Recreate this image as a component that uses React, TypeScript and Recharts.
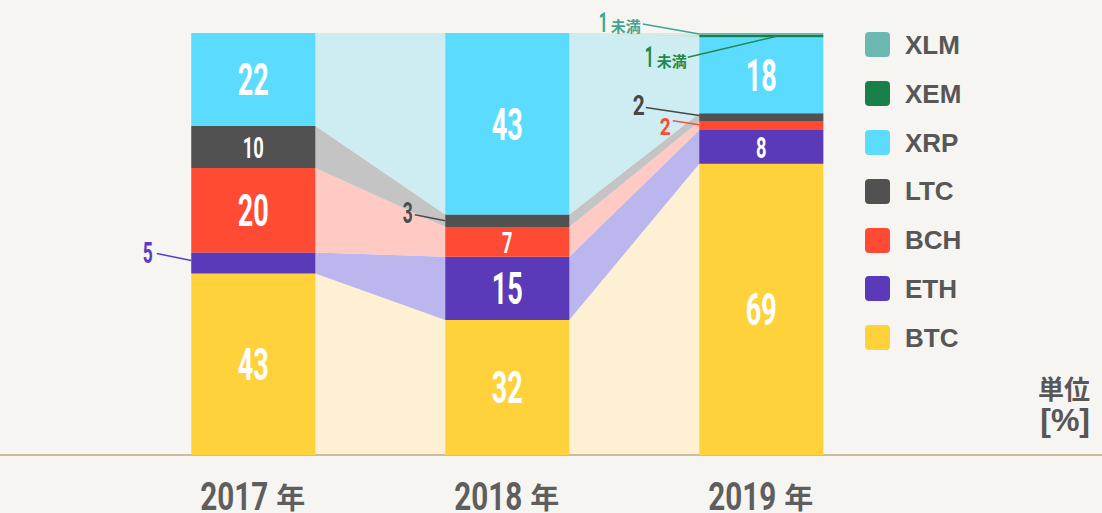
import React from 'react';
import { AreaChart, ComposedChart, Area, Bar, XAxis, YAxis, LabelList, Legend } from 'recharts';

// ---- data ----
const years = ['2017', '2018', '2019'];
const yearSuffix = '年';
const seriesKeys = ['BTC', 'ETH', 'BCH', 'LTC', 'XRP', 'XEM', 'XLM'];
const btc = [43, 32, 69];
const eth = [5, 15, 8];
const bch = [20, 7, 2];
const ltc = [10, 3, 2];
const xrp = [22, 43, 18];
const xem = [0, 0, 0.5];
const xlm = [0, 0, 0.5];
const lessThanText = '未満';
const unitLines = ['単位', '[%]'];

const seriesValues: Record<string, number[]> = {
  BTC: btc, ETH: eth, BCH: bch, LTC: ltc, XRP: xrp, XEM: xem, XLM: xlm,
};

// ---- styles ----
const W = 1102;
const H = 513;
const BG = '#f6f5f1';
const BAR_SIZE = 124;
const SPACING_PX = 254;
const HALF = BAR_SIZE / 2 / SPACING_PX; // half bar width in x units
const FIRST_CENTER_PX = 253.3;
const X_DOMAIN: [number, number] = [-FIRST_CENTER_PX / SPACING_PX, (W - FIRST_CENTER_PX) / SPACING_PX];
const MARGIN_TOP = 33;
const AXIS_H = 58;

const barColors: Record<string, string> = {
  BTC: '#ffd23c', ETH: '#5a3ab8', BCH: '#ff4b33', LTC: '#515151', XRP: '#5bdcff', XEM: '#1a804a', XLM: '#6bb8b1',
};
const bandColors: Record<string, string> = {
  BTC: '#fef0d3', ETH: '#bbb6ee', BCH: '#ffc9c4', LTC: '#c4c4c4', XRP: '#cdedf3', XEM: '#c9e6d6', XLM: '#d3ece8',
};

const DIGIT_FONT = 'Roboto, "Liberation Sans", sans-serif';
const CJK_FONT = '"Noto Sans CJK JP", "Noto Sans", sans-serif';
const LATIN_FONT = '"Liberation Sans", Arial, sans-serif';

// ---- tables built from the arrays ----
const barData = years.map((y, i) => {
  const row: any = { x: i, year: y };
  seriesKeys.forEach((k) => (row[k] = seriesValues[k][i]));
  return row;
});
const bandData = years.flatMap((y, i) =>
  [i - HALF, i + HALF].map((xv) => {
    const row: any = { x: xv };
    seriesKeys.forEach((k) => (row[k] = seriesValues[k][i]));
    return row;
  })
);

// callout styling (relative to bar left edge bx and segment centre cy)
type Callout = {
  color: string; tx: number; ty: number; size: number; len: number;
  l: [number, number, number, number]; suffix?: boolean;
};
const callouts: Record<string, Callout> = {
  'ETH-0': { color: '#5b3cc4', tx: -48.5, ty: 0.5, size: 30, len: 10, l: [-34.5, -9.5, 0, -2.5] },
  'LTC-1': { color: '#4d4d4d', tx: -42.5, ty: 2, size: 30, len: 10, l: [-30.5, -6, 0, 0] },
  'LTC-2': { color: '#474747', tx: -66.5, ty: -2, size: 27, len: 12, l: [-53.5, -10, 0, -2] },
  'BCH-2': { color: '#ff4a36', tx: -39.5, ty: 9, size: 23, len: 11, l: [-26.5, -5, 0, -1] },
  'XLM-2': { color: '#3fa594', tx: -100.5, ty: -2, size: 28, len: 9, l: [-56.5, -10, 0, 0], suffix: true },
  'XEM-2': { color: '#1f8a4c', tx: -54.5, ty: 31, size: 29, len: 9, l: [-11.5, 21, 77.5, 0], suffix: true },
};

const fmt = (v: number) => (v < 1 ? '1' : String(v));

const makeLabel = (key: string) => (props: any) => {
  const vb = props.viewBox && props.viewBox.width != null ? props.viewBox : props;
  const x = Number(vb.x), y = Number(vb.y), width = Number(vb.width), height = Number(vb.height);
  const vals = seriesValues[key];
  let index = props.index;
  const pv = Number(Array.isArray(props.value) ? NaN : props.value);
  if (index == null || (!isNaN(pv) && vals[index] !== pv)) {
    const found = vals.findIndex((vv) => vv === pv && vv !== 0);
    if (found >= 0) index = found;
  }
  const v = vals[index];
  if (!v) return null;
  const cx = x + width / 2;
  const cy = y + height / 2;
  const txt = fmt(v);
  if (v >= 15) {
    return (
      <text x={cx} y={cy + 16} textAnchor="middle" fill="#fff" fontFamily={DIGIT_FONT} fontWeight={700}
        fontSize={45} textLength={txt.length * 15.5} lengthAdjust="spacingAndGlyphs">{txt}</text>
    );
  }
  if (v >= 6) {
    return (
      <text x={cx} y={cy + 11} textAnchor="middle" fill="#fff" fontFamily={DIGIT_FONT} fontWeight={700}
        fontSize={30} textLength={txt.length * 10.5} lengthAdjust="spacingAndGlyphs">{txt}</text>
    );
  }
  const c = callouts[`${key}-${index}`];
  if (!c) return null;
  const bx = x;
  return (
    <g>
      <line x1={bx + c.l[0]} y1={cy + c.l[1]} x2={bx + c.l[2]} y2={cy + c.l[3]} stroke={c.color} strokeWidth={1.5} />
      <text x={bx + c.tx} y={cy + c.ty} fill={c.color} fontFamily={DIGIT_FONT} fontWeight={700} fontSize={c.size}
        textLength={c.len} lengthAdjust="spacingAndGlyphs">{txt}</text>
      {c.suffix && v < 1 ? (
        <text x={bx + c.tx + 12} y={cy + c.ty} fill={c.color} fontFamily={CJK_FONT} fontWeight={700} fontSize={15}>
          {lessThanText}
        </text>
      ) : null}
    </g>
  );
};

const YearTick = (props: any) => {
  const { x, y, payload } = props;
  const label = years[Math.round(payload.value)];
  if (label == null) return null;
  return (
    <g>
      <text x={x - 53} y={y + 55} fill="#5e5e5e" fontFamily={DIGIT_FONT} fontWeight={700} fontSize={38}
        textLength={68} lengthAdjust="spacingAndGlyphs">{label}</text>
      <text x={x + 23} y={y + 54} fill="#5e5e5e" fontFamily={CJK_FONT} fontWeight={700} fontSize={29}>{yearSuffix}</text>
    </g>
  );
};

const legendOrder = [...seriesKeys].reverse();
const renderLegend = () => (
  <div style={{ display: 'flex', flexDirection: 'column' }}>
    {legendOrder.map((k) => (
      <div key={k} style={{ display: 'flex', alignItems: 'center', height: 48.8 }}>
        <span style={{ display: 'inline-block', width: 25, height: 25, borderRadius: 4, background: barColors[k] }} />
        <span style={{ marginLeft: 15, fontFamily: LATIN_FONT, fontWeight: 700, fontSize: 26, color: '#575757', lineHeight: '26px' }}>
          {k}
        </span>
      </div>
    ))}
  </div>
);

export default function App() {
  return (
    <div style={{ position: 'absolute', left: 0, top: 0, width: W, height: H, background: BG, overflow: 'hidden' }}>
      <div style={{ position: 'absolute', left: 0, top: 0 }}>
        <AreaChart width={W} height={H} data={bandData} margin={{ top: MARGIN_TOP, right: 0, bottom: 0, left: 0 }}>
          <XAxis dataKey="x" type="number" domain={X_DOMAIN} allowDataOverflow ticks={[0, 1, 2]} interval={0}
            height={AXIS_H} tickSize={0} tickMargin={0} tickLine={false}
            axisLine={{ stroke: '#c9bf9f', strokeWidth: 2 }} tick={<YearTick />} />
          <YAxis hide domain={[0, 100]} type="number" allowDataOverflow />
          {seriesKeys.map((k) => (
            <Area key={k} dataKey={k} stackId="band" type="linear" stroke="none" fill={bandColors[k]} fillOpacity={1}
              dot={false} activeDot={false} isAnimationActive={false} />
          ))}
        </AreaChart>
      </div>
      <div style={{ position: 'absolute', left: 0, top: 0 }}>
        <ComposedChart width={W} height={H} data={barData} margin={{ top: MARGIN_TOP, right: 0, bottom: AXIS_H, left: 0 }}>
          <XAxis dataKey="x" type="number" domain={X_DOMAIN} allowDataOverflow ticks={[0, 1, 2]} hide />
          <YAxis hide domain={[0, 100]} type="number" allowDataOverflow />
          <Legend layout="horizontal" verticalAlign="middle" align="center" content={renderLegend}
            wrapperStyle={{ left: 865, top: 20.6, width: 200, height: 342 }} />
          {seriesKeys.map((k) => (
            <Bar key={k} dataKey={k} stackId="bar" fill={barColors[k]} barSize={BAR_SIZE} isAnimationActive={false}>
              <LabelList dataKey={k} content={makeLabel(k)} />
            </Bar>
          ))}
        </ComposedChart>
      </div>
      <div style={{ position: 'absolute', right: 12, top: 374, textAlign: 'right', color: '#575757', fontWeight: 700 }}>
        <div style={{ fontFamily: CJK_FONT, fontSize: 26, lineHeight: '28px' }}>{unitLines[0]}</div>
        <div style={{ fontFamily: LATIN_FONT, fontSize: 32, lineHeight: '36px' }}>{unitLines[1]}</div>
      </div>
    </div>
  );
}
